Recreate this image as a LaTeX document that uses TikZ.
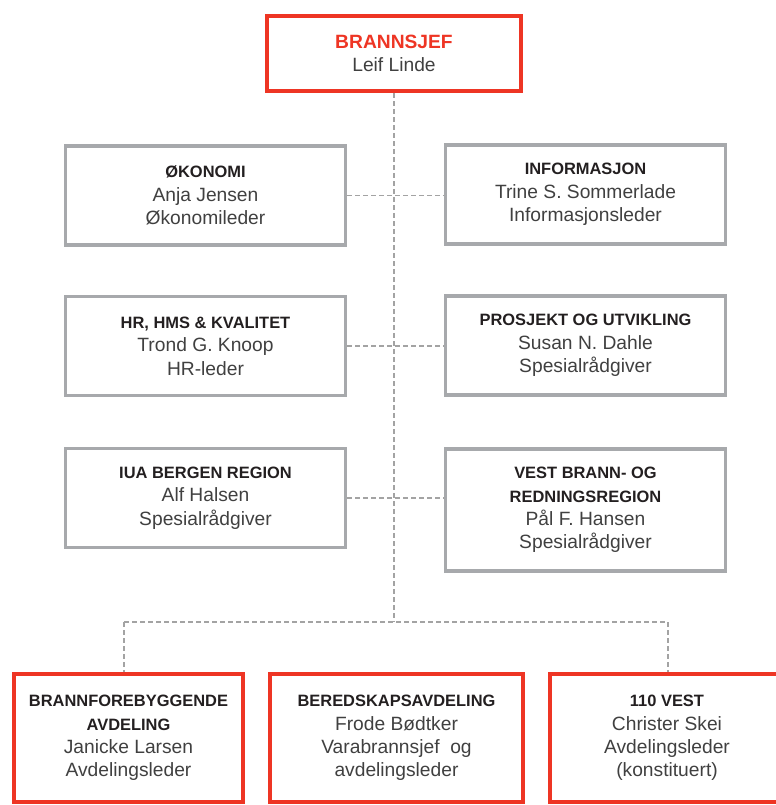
\documentclass[tikz,border=0pt]{standalone}
\usepackage{fontspec}
\setmainfont{Liberation Sans}
\usetikzlibrary{calc}

\definecolor{brannred}{HTML}{EE3524}
\definecolor{boxgray}{HTML}{A7A9AC}
\definecolor{linegray}{HTML}{A3A3A3}
\definecolor{titleblack}{HTML}{231F20}
\definecolor{namegray}{HTML}{404040}

\newcommand{\unittitle}[1]{{\fontsize{16.5}{24}\selectfont\bfseries\color{titleblack}#1}}

\begin{document}
\begin{tikzpicture}[x=1bp,y=-1bp,font=\fontsize{19.3}{23.5}\selectfont,text=namegray]

  \tikzstyle{graybox}=[draw=boxgray,line width=3.5bp,shape=rectangle,align=center,minimum width=280bp,minimum height=99bp]
  \tikzstyle{redbox}=[draw=brannred,line width=4bp,shape=rectangle,align=center,minimum height=128bp]
  \tikzstyle{dashline}=[draw=linegray,line width=1.1bp,dash pattern=on 5bp off 3bp]

  \useasboundingbox (0,0) rectangle (776,805);
  \clip (0,0) rectangle (776,805);

  \node[redbox,minimum width=254bp,minimum height=75bp] (chief) at (394,53.5)
    {{\bfseries\color{brannred}BRANNSJEF}\\Leif Linde};

  \node[graybox] (okonomi) at (205.5,195.5) {\unittitle{ØKONOMI}\\Anja Jensen\\Økonomileder};
  \node[graybox] (info)    at (585.5,194.5) {\unittitle{INFORMASJON}\\Trine S. Sommerlade\\Informasjonsleder};
  \node[graybox] (hr)      at (205.5,346)   {\unittitle{HR, HMS \& KVALITET}\\Trond G. Knoop\\HR-leder};
  \node[graybox] (prosj)   at (585.5,345.5) {\unittitle{PROSJEKT OG UTVIKLING}\\Susan N. Dahle\\Spesialrådgiver};
  \node[graybox] (iua)     at (205.5,498)   {\unittitle{IUA BERGEN REGION}\\Alf Halsen\\Spesialrådgiver};
  \node[graybox,minimum height=122bp] (vestregion) at (585.5,510)
    {\unittitle{VEST BRANN- OG}\\\unittitle{REDNINGSREGION}\\Pål F. Hansen\\Spesialrådgiver};

  \node[redbox,minimum width=229bp] (forebygg) at (128.5,738)
    {\unittitle{BRANNFOREBYGGENDE}\\\unittitle{AVDELING}\\Janicke Larsen\\Avdelingsleder};
  \node[redbox,minimum width=253bp] (beredskap) at (396.5,738)
    {\unittitle{BEREDSKAPSAVDELING}\\Frode Bødtker\\Varabrannsjef\ \ og\\avdelingsleder};
  \node[redbox,minimum width=234bp] (vest110) at (667,738)
    {\unittitle{110 VEST}\\Christer Skei\\Avdelingsleder\\(konstituert)};

  \coordinate (hub)   at (394,622);
  \coordinate (dropw) at (124,622);
  \coordinate (drope) at (668,622);

  \path[dashline]
        (chief)   edge (hub)
        (okonomi) edge (okonomi -| info.west)
        (hr)      edge (hr -| prosj.west)
        (iua)     edge (iua -| vestregion.west)
        (dropw)   edge (drope)
                  edge (dropw |- forebygg.north)
        (drope)   edge (drope |- vest110.north);
\end{tikzpicture}
\end{document}
